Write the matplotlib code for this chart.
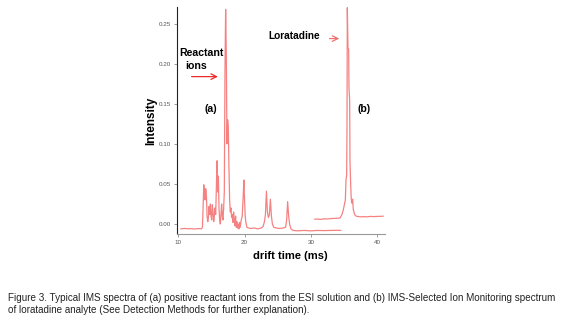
import matplotlib
matplotlib.use("Agg")
import matplotlib.pyplot as plt

# trace (a): reactant ions
a_time = [10.4, 11.0, 11.5, 12.0, 12.5, 13.0, 13.5, 13.65, 13.75, 13.85, 13.95, 14.05, 14.15,
          14.25, 14.35, 14.45, 14.55, 14.65, 14.75, 14.85, 14.95, 15.05, 15.15, 15.25, 15.35,
          15.45, 15.55, 15.65, 15.75, 15.85, 15.95, 16.05, 16.15, 16.25, 16.35, 16.45, 16.55,
          16.65, 16.75, 16.85, 16.95, 17.05, 17.15, 17.25, 17.35, 17.45, 17.55, 17.65, 17.75,
          17.85, 17.95, 18.05, 18.15, 18.25, 18.35, 18.45, 18.55, 18.65, 18.75, 18.85, 18.95,
          19.05, 19.15, 19.25, 19.35, 19.5, 19.65, 19.8, 19.9, 20.0, 20.1, 20.2, 20.35, 20.6,
          21.0, 21.5, 22.0, 22.5, 22.8, 23.0, 23.15, 23.3, 23.45, 23.6, 23.75, 23.9, 24.05,
          24.2, 24.4, 24.8, 25.3, 25.8, 26.2, 26.35, 26.5, 26.65, 26.8, 27.0, 27.3, 28.0, 29.0,
          30.0, 31.0, 32.0, 33.0, 34.0, 34.5]
a_int = [-0.006, -0.0055, -0.006, -0.0058, -0.0062, -0.0057, -0.006, -0.004, 0.02, 0.049, 0.040,
         0.030, 0.044, 0.035, 0.010, 0.003, 0.008, 0.022, 0.012, 0.025, 0.010, 0.005, 0.024,
         0.015, 0.003, 0.010, 0.020, 0.012, 0.045, 0.079, 0.040, 0.060, 0.020, 0.005, 0.000,
         0.012, 0.025, 0.010, 0.005, 0.020, 0.040, 0.19, 0.268, 0.21, 0.10, 0.13, 0.12, 0.07,
         0.03, 0.015, 0.020, 0.008, 0.012, 0.002, 0.015, 0.005, -0.002, 0.010, -0.004, 0.003,
         -0.005, 0.000, -0.006, 0.002, -0.004, 0.005, 0.010, 0.035, 0.055, 0.030, 0.010, 0.002,
         -0.004, -0.005, -0.0055, -0.005, -0.006, -0.005, -0.003, 0.003, 0.012, 0.041, 0.015,
         0.008, 0.012, 0.031, 0.010, 0.000, -0.004, -0.005, -0.0055, -0.005, -0.004, 0.005,
         0.028, 0.010, 0.000, -0.006, -0.008, -0.0085, -0.008, -0.0085, -0.008, -0.0082,
         -0.008, -0.0078, -0.008]

# trace (b): loratadine
b_time = [30.6, 31.0, 31.5, 32.0, 32.5, 33.0, 33.5, 34.0, 34.4, 34.7, 34.9, 35.1, 35.2, 35.3,
          35.4, 35.45, 35.5, 35.6, 35.7, 35.75, 35.85, 35.9, 36.0, 36.1, 36.2, 36.3, 36.4, 36.6,
          36.8, 37.0, 37.5, 38.0, 38.5, 39.0, 39.5, 40.0, 40.5, 40.9]
b_int = [0.006, 0.0062, 0.0058, 0.0065, 0.0063, 0.0068, 0.007, 0.0072, 0.0075, 0.012, 0.018,
         0.026, 0.030, 0.055, 0.061, 0.12, 0.27, 0.22, 0.218, 0.17, 0.155, 0.08, 0.05, 0.03,
         0.026, 0.031, 0.018, 0.012, 0.010, 0.0095, 0.009, 0.0092, 0.009, 0.0095, 0.0093,
         0.0095, 0.0096, 0.0098]

x_ticks = [10, 20, 30, 40]
y_ticks = [0.00, 0.05, 0.10, 0.15, 0.20, 0.25]

plt.rcParams['font.family'] = ['Liberation Sans', 'DejaVu Sans']

fig = plt.figure(figsize=(5.8, 3.15), dpi=100)
ax = fig.add_axes([0.305, 0.257, 0.359, 0.721])

line_kw = dict(color='#ee1c1c', lw=0.9, alpha=0.55)
ax.plot(a_time, a_int, **line_kw)
ax.plot(b_time, b_int, **line_kw)

ax.set_xlim(9.8, 41.2)
ax.set_ylim(-0.0125, 0.271)
ax.set_xticks(x_ticks)
ax.set_xticklabels([str(t) for t in x_ticks])
ax.set_yticks(y_ticks)
ax.set_yticklabels([f"{t:.2f}" for t in y_ticks])
ax.tick_params(axis='both', labelsize=4.5, labelcolor='#555555', colors='#777777',
               length=2, width=0.5, pad=2)
for s in ['top', 'right']:
    ax.spines[s].set_visible(False)
ax.spines['left'].set_color('#222222')
ax.spines['left'].set_linewidth(0.8)
ax.spines['bottom'].set_color('#999999')
ax.spines['bottom'].set_linewidth(0.8)

ax.set_xlabel('drift time (ms)', fontsize=8, fontweight='bold')
ax.xaxis.set_label_coords(0.543, -0.075)
ax.set_ylabel('Intensity', fontsize=8.5, fontweight='bold', labelpad=1)

ax.text(13.5, 0.214, 'Reactant', fontsize=7.6, fontweight='bold', ha='center', va='center')
ax.text(12.75, 0.1975, 'ions', fontsize=7.6, fontweight='bold', ha='center', va='center')
ax.annotate('', xy=(16.4, 0.184), xytext=(11.6, 0.184),
            arrowprops=dict(arrowstyle='->', color='#ee2a2a', lw=0.9))
ax.text(14.9, 0.1435, '(a)', fontsize=7.6, fontweight='bold', ha='center', va='center')
ax.text(27.45, 0.235, 'Loratadine', fontsize=7.3, fontweight='bold', ha='center', va='center')
ax.annotate('', xy=(34.7, 0.2315), xytext=(32.4, 0.2315),
            arrowprops=dict(arrowstyle='->', color='#f07070', lw=0.9))
ax.text(38.0, 0.1435, '(b)', fontsize=7.6, fontweight='bold', ha='center', va='center')

fig.text(0.014, 0.0365, 'Figure 3. Typical IMS spectra of (a) positive reactant ions from the ESI solution '
         'and (b) IMS-Selected Ion Monitoring spectrum\nof loratadine analyte (See Detection Methods '
         'for further explanation).', fontsize=7.15, color='#222222', ha='left', va='center',
         linespacing=1.25)

fig.savefig('out.png', dpi=100)
